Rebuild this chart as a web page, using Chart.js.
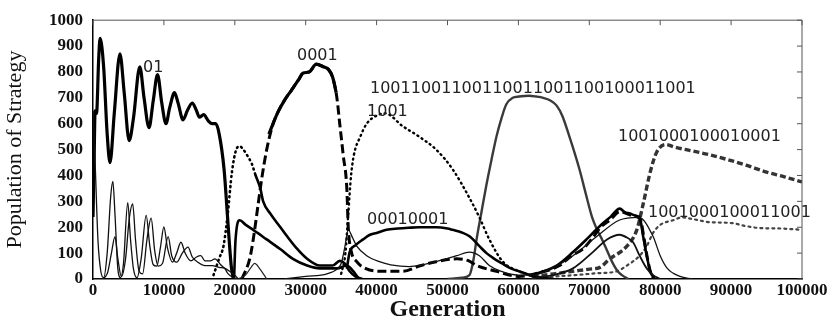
<!DOCTYPE html>
<html>
<head>
<meta charset="utf-8">
<script src="https://cdn.jsdelivr.net/npm/chart.js@4.4.0/dist/chart.umd.min.js"></script>
<style>
  html, body { margin: 0; padding: 0; background: #fff; }
  #wrap { width: 834px; height: 322px; }
</style>
</head>
<body>
<div id="wrap"><canvas id="chart"></canvas></div>
<script>
// axis ranges
const genMax = 100000, genStep = 10000;
const popMax = 1000, popStep = 100;

// [generation, population]
const s01 = [[0,240],[150,450],[300,650],[500,640],[800,850],[1000,930],[1500,820],[2000,560],[2400,450],[3000,640],[3800,870],[4400,720],[5100,535],[5700,620],[6600,820],[7200,700],[7900,585],[8500,690],[9100,790],[9700,680],[10300,600],[10800,660],[11500,720],[12000,680],[12700,615],[13300,650],[14000,680],[14600,650],[15000,625],[15600,635],[16300,610],[16800,600],[17300,600],[17800,560],[18500,420],[19000,230],[19500,50],[19800,0]];
const sOscA = [[0,650],[300,450],[700,150],[1100,30],[1500,5],[2000,100],[2500,320],[2800,377],[3100,250],[3500,40],[3900,5],[4300,60],[4900,295],[5300,150],[5700,40],[6200,5],[6800,80],[7500,246],[8000,130],[8500,55],[9000,50],[9500,120],[10000,201],[10500,120],[11200,65],[11800,100],[12400,142],[13000,100],[13800,70],[14600,85],[15200,90],[15800,70],[16600,70],[17200,78],[18000,55],[18600,40],[19000,22],[19800,5],[20500,0]];
const sOscB = [[0,0],[1000,0],[2000,20],[2600,100],[3100,164],[3500,80],[4000,10],[4600,80],[5100,230],[5600,290],[6000,150],[6500,30],[7000,20],[7600,150],[8200,235],[8700,110],[9200,50],[9800,60],[10600,164],[11100,90],[11800,65],[12600,100],[13400,123],[14000,85],[14800,65],[15800,52],[16800,52],[17800,45],[18600,41],[19500,25],[20000,15],[20500,0]];
const sDotEarly = [[17000,15],[17800,80],[18400,127],[19000,250],[19600,414],[20200,500],[20700,513],[21200,500],[21700,480],[22400,445],[22900,403]];
const sFallA = [[22900,403],[23600,350],[24000,300],[25000,253],[26400,201],[27400,164],[28800,116],[30200,78],[32000,52],[33800,52],[34800,70],[35500,60],[36200,30],[37000,10],[38000,0]];
const sFallB = [[19900,0],[20100,150],[20700,227],[21500,210],[22600,190],[24500,153],[26400,116],[28200,78],[30200,52],[32000,41],[34400,41],[35800,52],[36700,30],[37500,0]];
const sBump = [[20500,0],[21500,15],[22300,45],[22800,60],[23500,40],[24500,0]];
const s0001Dash = [[21000,0],[22100,78],[22600,153],[23300,290],[23800,388],[24500,500],[25400,600],[26000,640],[27000,690],[28000,730],[29000,770],[29600,795],[30500,800],[31500,830],[32500,820],[33200,810],[33800,780],[34400,700],[34800,600],[35300,477],[35800,350],[36000,200],[36400,110],[37200,67],[38500,40],[40800,30],[43700,30],[46000,50],[48400,67],[51300,78],[53000,70],[54100,52],[56900,30],[60000,10],[63000,25],[65800,52],[67500,90],[69100,116],[70500,160],[71500,197],[73000,230],[74300,260],[76000,245],[77200,230],[77700,160],[78200,80],[78700,20],[79200,0]];
const s0001 = [[24800,560],[25400,600],[26000,640],[27000,690],[28000,730],[29000,770],[29600,795],[30500,800],[31500,830],[32500,820],[33200,810],[33800,780],[34300,720]];
const sThin = [[27000,0],[30000,10],[33000,20],[34500,40],[35000,60],[35500,120],[36000,190],[36600,160],[37200,127],[38600,90],[40400,67],[42000,55],[44600,48],[46500,55],[48400,67],[51300,90],[53100,104],[54500,90],[55900,52],[57500,30],[60000,15],[62000,15],[65000,45],[67700,90],[71000,163],[74200,227],[77000,238],[79000,164],[80000,90],[81000,41],[82800,10],[84500,0]];
const s1001 = [[35000,20],[35600,100],[36000,250],[36400,400],[36800,480],[37700,550],[38600,600],[40400,636],[41200,640],[43700,590],[46000,550],[48400,500],[50700,425],[53100,313],[54500,238],[55900,153],[57800,67],[60100,30],[63000,5]];
const s00010001 = [[35800,40],[36200,104],[37000,130],[38100,153],[39000,170],[40000,178],[41400,190],[43000,195],[44500,198],[46000,200],[48400,200],[50000,195],[50700,190],[52000,180],[53100,165],[54500,127],[55500,100],[56500,80],[57700,60],[59000,40],[60600,25],[62000,12],[63500,5],[65000,0]];
const sLong = [[50000,0],[52000,5],[53100,15],[53700,80],[54100,153],[54800,260],[55500,365],[56200,460],[56900,550],[57600,620],[58300,675],[59200,700],[60100,705],[61500,708],[62500,705],[63500,700],[64500,690],[65400,670],[66200,630],[67200,550],[68600,425],[69500,330],[70400,238],[71100,190],[71800,153],[72500,110],[73200,67],[74000,30],[74600,15],[75500,0]];
const sPeak = [[62000,15],[65400,52],[67700,104],[69600,153],[71500,205],[73000,240],[74300,272],[75000,258],[75700,253],[76500,245],[77100,238],[77600,164],[78100,90],[78600,30],[79200,0]];
const sPeakLow = [[62000,5],[64900,15],[67700,41],[70500,104],[72500,153],[74300,171],[75300,160],[76200,141],[77100,90],[78100,41],[79000,15],[80000,0]];
const s1001000100010001 = [[62000,10],[65000,20],[67700,30],[70000,38],[71500,45],[72900,78],[75300,127],[76700,190],[77600,290],[78600,414],[79500,490],[80800,520],[82000,510],[84500,495],[87000,480],[89300,463],[92100,440],[95000,413],[97500,395],[100000,375]];
const s1001000100011001 = [[62000,5],[68000,15],[71000,22],[73900,30],[75300,52],[77100,90],[78100,127],[79000,178],[80000,209],[81800,227],[83100,238],[84500,232],[86900,220],[90100,216],[92000,205],[94000,197],[97000,195],[100000,190]];

const toXY = pts => pts.map(p => ({x: p[0], y: p[1]}));

function line(pts, width, dash, color) {
    return {
        data: toXY(pts),
        borderColor: color || '#000',
        borderWidth: width,
        borderDash: dash || [],
        borderCapStyle: dash && dash[0] < 3 ? 'round' : 'butt',
        pointRadius: 0,
        fill: false,
        cubicInterpolationMode: 'monotone'
    };
}

const datasets = [
    line(sOscA, 1.3, null, '#111'),
    line(sOscB, 1.3, null, '#111'),
    line(sBump, 1.2, null, '#222'),
    line(sThin, 1.3, null, '#111'),
    line(sPeakLow, 1.8, null, '#111'),
    line(sDotEarly, 2.6, [1, 4]),
    line(sFallA, 2.6),
    line(sFallB, 2.6),
    line(s0001Dash, 3, [9, 4]),
    line(s0001, 3.2),
    line(s1001, 2.4, [1, 4]),
    line(s00010001, 2.6),
    line(sPeak, 2.6),
    line(sLong, 2.4, null, '#3a3a3a'),
    line(s1001000100010001, 3.4, [6, 3], '#333'),
    line(s1001000100011001, 2.2, [2, 4], '#444'),
    line(s01, 3.2)
];

const framePlugin = {
    id: 'frame',
    afterDatasetsDraw(chart, args, opts) {
        const {ctx, chartArea: a, scales: {x, y}} = chart;
        ctx.save();
        ctx.strokeStyle = '#555';
        ctx.lineWidth = 1;
        ctx.beginPath();
        ctx.moveTo(a.left, a.top);
        ctx.lineTo(a.right, a.top);
        ctx.lineTo(a.right, a.bottom);
        x.ticks.forEach(t => {
            const px = x.getPixelForValue(t.value);
            ctx.moveTo(px, a.top);
            ctx.lineTo(px, a.top + 5);
        });
        y.ticks.forEach(t => {
            const py = y.getPixelForValue(t.value);
            ctx.moveTo(a.right, py);
            ctx.lineTo(a.right - 5, py);
        });
        ctx.stroke();
        // strategy names
        ctx.font = '16px "DejaVu Sans"';
        ctx.fillStyle = '#222';
        ctx.textAlign = 'left';
        ctx.textBaseline = 'alphabetic';
        opts.labels.forEach(l => {
            ctx.fillText(l.text, x.getPixelForValue(l.gen), y.getPixelForValue(l.pop));
        });
        ctx.restore();
    }
};

new Chart(document.getElementById('chart'), {
    type: 'line',
    data: { datasets: datasets },
    plugins: [framePlugin],
    options: {
        responsive: true,
        maintainAspectRatio: false,
        animation: false,
        layout: { padding: { top: 13, right: 32, left: 0, bottom: 0 } },
        plugins: {
            legend: { display: false },
            tooltip: { enabled: false },
            frame: {
                labels: [
                    { text: '01', gen: 7050, pop: 800 },
                    { text: '0001', gen: 28770, pop: 846 },
                    { text: '10011001100110011001100100011001', gen: 39070, pop: 718 },
                    { text: '1001', gen: 38650, pop: 628 },
                    { text: '00010001', gen: 38650, pop: 211 },
                    { text: '1001000100010001', gen: 74050, pop: 534 },
                    { text: '1001000100011001', gen: 78280, pop: 241 }
                ]
            }
        },
        scales: {
            x: {
                type: 'linear',
                min: 0,
                max: genMax,
                afterFit: s => { s.height = 43; },
                grid: { display: true, drawOnChartArea: false, drawTicks: false },
                border: { display: true, color: '#000', width: 1.5 },
                ticks: {
                    stepSize: genStep,
                    padding: 1,
                    color: '#111',
                    maxRotation: 0,
                    callback: v => String(v),
                    font: { family: '"Liberation Serif"', size: 17, weight: 'bold' }
                },
                title: {
                    display: true,
                    text: 'Generation',
                    color: '#111',
                    padding: { top: 0, bottom: 0 },
                    font: { family: '"Liberation Serif"', size: 24, weight: 'bold', lineHeight: 1 }
                }
            },
            y: {
                min: 0,
                max: popMax,
                afterFit: s => { s.width = 93; },
                grid: { display: true, drawOnChartArea: false, drawTicks: false },
                border: { display: true, color: '#000', width: 1.5 },
                ticks: {
                    stepSize: popStep,
                    padding: 10,
                    color: '#111',
                    callback: v => String(v),
                    font: { family: '"Liberation Serif"', size: 17, weight: 'bold' }
                },
                title: {
                    display: true,
                    text: 'Population of Strategy',
                    color: '#111',
                    padding: { top: 2, bottom: 0 },
                    font: { family: '"Liberation Serif"', size: 22, lineHeight: 1.2 }
                }
            }
        }
    }
});
</script>
</body>
</html>
